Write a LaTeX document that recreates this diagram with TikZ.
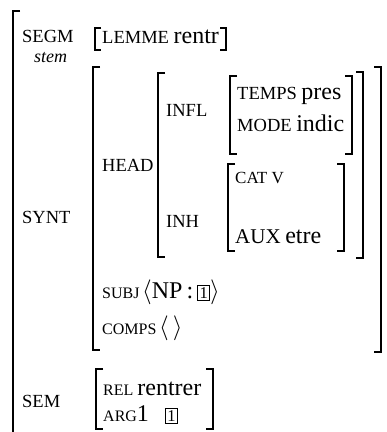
\documentclass[tikz,border=0pt]{standalone}
\usepackage{fontspec}
\setmainfont{Liberation Serif}
\usetikzlibrary{positioning}
\newcommand{\lab}{\fontsize{18.5}{18.5}\selectfont}
\newcommand{\val}{\fontsize{24}{24}\selectfont}
\newcommand{\sml}{\fontsize{16}{16}\selectfont}
\newcommand{\tagbox}[1]{{\setlength{\fboxsep}{1.5pt}\setlength{\fboxrule}{0.8pt}\fbox{\fontsize{16.5}{16.5}\selectfont #1}}}
\tikzstyle{feat} = [anchor=base west, inner sep=0pt, font=\lab]
\tikzstyle{brk} = [draw, line width=1.1pt]

\begin{document}
\begin{tikzpicture}[x=1pt, y=-1pt]
	\useasboundingbox (0,0) rectangle (387,432);
	% outer matrix
	\draw [brk, line width=1.4pt] (20,11) -- (13,11) -- (13,432);
	\node [feat] (segm) at (22,42) {SEGM};
	\node [feat, font=\fontsize{18}{18}\selectfont\itshape] (stem) at (34,62) {stem};
	\node [feat] (lemme) at (102,43) {LEMME {\val rentr}};
	\draw [brk] (101,28) -- (95,28) -- (95,50) -- (101,50);
	\draw [brk] (220,28) -- (226,28) -- (226,50) -- (220,50);
	% synt
	\node [feat] (synt) at (22,223) {SYNT};
	\draw [brk] (100,67) -- (93,67) -- (93,350) -- (100,350);
	\draw [brk] (374,67) -- (381,67) -- (381,352) -- (374,352);
	% head
	\node [feat] (head) at (102,171) {HEAD};
	\draw [brk] (165,73) -- (158,73) -- (158,257) -- (165,257);
	\draw [brk] (356,72) -- (363,72) -- (363,258) -- (356,258);
	% infl
	\node [feat] (infl) at (166,116) {INFL};
	\draw [brk] (237,76) -- (230,76) -- (230,154) -- (237,154);
	\draw [brk] (345,76) -- (352,76) -- (352,154) -- (345,154);
	\node [feat] (temps) at (237,99) {TEMPS {\val pres}};
	\node [feat] (mode) at (237,131) {MODE {\val indic}};
	% inh
	\node [feat] (inh) at (166,227) {INH};
	\draw [brk] (235,164) -- (228,164) -- (228,251) -- (235,251);
	\draw [brk] (337,164) -- (344,164) -- (344,251) -- (337,251);
	\node [feat, font=\fontsize{17}{17}\selectfont] (cat) at (235,183) {CAT V};
	\node [feat] (aux) at (235,243) {{\fontsize{21}{21}\selectfont AUX} {\val etre}};
	% subj, comps
	\node [feat, font=\sml] (subj) at (102,298) {SUBJ\,{\val$\langle$NP\,:\,\tagbox{1}$\rangle$}};
	\node [feat, font=\sml] (comps) at (102,334) {COMPS\,{\val$\langle\,\rangle$}};
	% sem
	\node [feat] (sem) at (22,407) {SEM};
	\draw [brk] (103,369) -- (96,369) -- (96,429) -- (103,429);
	\draw [brk] (206,369) -- (213,369) -- (213,429) -- (206,429);
	\node [feat, font=\sml] (rel) at (103,395) {REL {\val rentrer}};
	\node [feat, font=\sml] (arg) at (103,421) {ARG{\val 1}\quad\tagbox{1}};
\end{tikzpicture}
\end{document}
